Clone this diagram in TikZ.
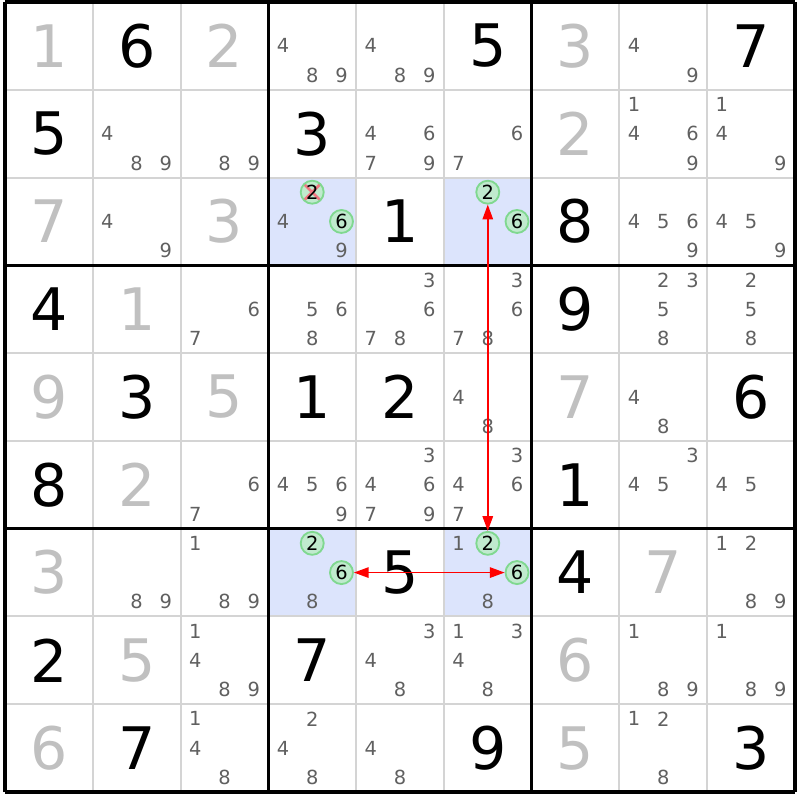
\documentclass[tikz,border=0pt]{standalone}
\usepackage{fontspec}
\setmainfont{DejaVu Sans}
\usetikzlibrary{arrows.meta}

\definecolor{solvedgray}{RGB}{192,192,192}
\definecolor{pmgray}{RGB}{96,96,96}
\definecolor{gridgray}{RGB}{212,212,212}
\definecolor{cellblue}{RGB}{220,228,252}
\definecolor{ringgreen}{RGB}{128,216,144}
\definecolor{ringfill}{RGB}{192,234,206}
\definecolor{crosspink}{RGB}{240,120,130}

% big digit in cell (row, col)
\newcommand{\cellnum}[4][given]{\node[#1] (r#2c#3) at (#3-0.5,9.5-#2) {#4};}
% pencil marks in cell (row, col), laid out 1 2 3 / 4 5 6 / 7 8 9
\newcommand{\pmarks}[4][pm]{%
  \foreach \d in {#4}{%
    \pgfmathsetmacro{\px}{#3-1+1/6+mod(\d-1,3)/3}%
    \pgfmathsetmacro{\py}{9-#2+5/6-floor((\d-1)/3)/3}%
    \node[#1] (r#2c#3n\d) at (\px,\py) {\d};
  }}

\begin{document}
\begin{tikzpicture}[
        given/.style={inner sep=0pt, font=\fontsize{19pt}{22pt}\selectfont},
        solved/.style={given, text=solvedgray},
        pm/.style={inner sep=0pt, text=pmgray, font=\fontsize{6.3pt}{7pt}\selectfont},
        hit/.style={pm, circle, text=black, draw=ringgreen, fill=ringfill, line width=0.6pt, minimum size=0.262cm},
        struck/.style={path picture={
            \draw[crosspink, line width=0.9pt] (path picture bounding box.north west) -- (path picture bounding box.south east);
            \draw[crosspink, line width=0.9pt] (path picture bounding box.north east) -- (path picture bounding box.south west);}},
        thingrid/.style={gridgray, line width=0.65pt},
        thickgrid/.style={black, line width=1pt},
        link/.style={<->, >={Triangle[length=4.8pt, width=3.4pt]}, red, line width=0.5pt}
    ]

    \useasboundingbox (-0.057,-0.091) rectangle (9.057,9.023);

    % Highlighted cells
    \fill[cellblue] (3,6) rectangle (4,7);
    \fill[cellblue] (5,6) rectangle (6,7);
    \fill[cellblue] (3,2) rectangle (4,3);
    \fill[cellblue] (5,2) rectangle (6,3);

    % Grid
    \foreach \i in {1,2,4,5,7,8} {
        \draw[thingrid] (\i,0) -- (\i,9);
        \draw[thingrid] (0,\i) -- (9,\i);
    }
    \foreach \i in {0,3,6,9} {
        \draw[thickgrid] (\i,0) -- (\i,9);
        \draw[thickgrid] (0,\i) -- (9,\i);
    }

    % Row 1
    \cellnum[solved]{1}{1}{1} \cellnum{1}{2}{6} \cellnum[solved]{1}{3}{2}
    \pmarks{1}{4}{4,8,9} \pmarks{1}{5}{4,8,9} \cellnum{1}{6}{5}
    \cellnum[solved]{1}{7}{3} \pmarks{1}{8}{4,9} \cellnum{1}{9}{7}

    % Row 2
    \cellnum{2}{1}{5} \pmarks{2}{2}{4,8,9} \pmarks{2}{3}{8,9}
    \cellnum{2}{4}{3} \pmarks{2}{5}{4,6,7,9} \pmarks{2}{6}{6,7}
    \cellnum[solved]{2}{7}{2} \pmarks{2}{8}{1,4,6,9} \pmarks{2}{9}{1,4,9}

    % Row 3
    \cellnum[solved]{3}{1}{7} \pmarks{3}{2}{4,9} \cellnum[solved]{3}{3}{3}
    \pmarks{3}{4}{4,9} \pmarks[hit,struck]{3}{4}{2} \pmarks[hit]{3}{4}{6}
    \cellnum{3}{5}{1} \pmarks[hit]{3}{6}{2,6}
    \cellnum{3}{7}{8} \pmarks{3}{8}{4,5,6,9} \pmarks{3}{9}{4,5,9}

    % Row 4
    \cellnum{4}{1}{4} \cellnum[solved]{4}{2}{1} \pmarks{4}{3}{6,7}
    \pmarks{4}{4}{5,6,8} \pmarks{4}{5}{3,6,7,8} \pmarks{4}{6}{3,6,7,8}
    \cellnum{4}{7}{9} \pmarks{4}{8}{2,3,5,8} \pmarks{4}{9}{2,5,8}

    % Row 5
    \cellnum[solved]{5}{1}{9} \cellnum{5}{2}{3} \cellnum[solved]{5}{3}{5}
    \cellnum{5}{4}{1} \cellnum{5}{5}{2} \pmarks{5}{6}{4,8}
    \cellnum[solved]{5}{7}{7} \pmarks{5}{8}{4,8} \cellnum{5}{9}{6}

    % Row 6
    \cellnum{6}{1}{8} \cellnum[solved]{6}{2}{2} \pmarks{6}{3}{6,7}
    \pmarks{6}{4}{4,5,6,9} \pmarks{6}{5}{3,4,6,7,9} \pmarks{6}{6}{3,4,6,7}
    \cellnum{6}{7}{1} \pmarks{6}{8}{3,4,5} \pmarks{6}{9}{4,5}

    % Row 7
    \cellnum[solved]{7}{1}{3} \pmarks{7}{2}{8,9} \pmarks{7}{3}{1,8,9}
    \pmarks{7}{4}{8} \pmarks[hit]{7}{4}{2,6} \cellnum{7}{5}{5}
    \pmarks{7}{6}{1,8} \pmarks[hit]{7}{6}{2,6}
    \cellnum{7}{7}{4} \cellnum[solved]{7}{8}{7} \pmarks{7}{9}{1,2,8,9}

    % Row 8
    \cellnum{8}{1}{2} \cellnum[solved]{8}{2}{5} \pmarks{8}{3}{1,4,8,9}
    \cellnum{8}{4}{7} \pmarks{8}{5}{3,4,8} \pmarks{8}{6}{1,3,4,8}
    \cellnum[solved]{8}{7}{6} \pmarks{8}{8}{1,8,9} \pmarks{8}{9}{1,8,9}

    % Row 9
    \cellnum[solved]{9}{1}{6} \cellnum{9}{2}{7} \pmarks{9}{3}{1,4,8}
    \pmarks{9}{4}{2,4,8} \pmarks{9}{5}{4,8} \cellnum{9}{6}{9}
    \cellnum[solved]{9}{7}{5} \pmarks{9}{8}{1,2,8} \cellnum{9}{9}{3}

    % Links
    \draw[link] (r3c6n2) -- (r7c6n2);
    \draw[link] (r7c4n6) -- (r7c6n6);

\end{tikzpicture}
\end{document}
